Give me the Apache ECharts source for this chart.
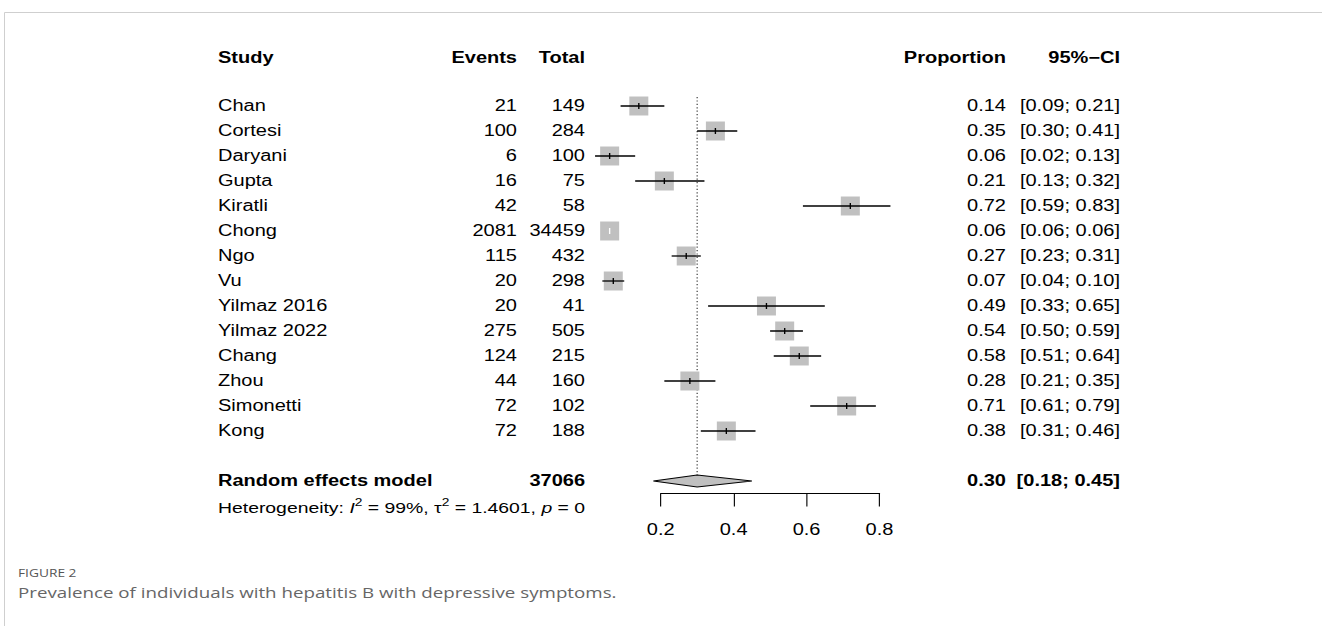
<!DOCTYPE html>
<html>
<head>
<meta charset="utf-8">
<script src="https://cdn.jsdelivr.net/npm/echarts@6/dist/echarts.min.js"></script>
<style>
  html, body { margin: 0; padding: 0; background: #fff; }
  #frame { position: absolute; left: 0; top: 0; width: 1322px; height: 626px; }
  /* the figure is stretched sideways, so draw it narrow and widen it */
  #plot { position: absolute; left: 0; top: 0; width: 1057.6px; height: 626px;
          transform: scaleX(1.25); transform-origin: 0 0; }
</style>
</head>
<body>
<div id="frame"></div>
<div id="plot"></div>
<script>
const SX = 1.25;

const studies = ['Chan', 'Cortesi', 'Daryani', 'Gupta', 'Kiratli', 'Chong', 'Ngo', 'Vu',
  'Yilmaz 2016', 'Yilmaz 2022', 'Chang', 'Zhou', 'Simonetti', 'Kong'];
const events = [21, 100, 6, 16, 42, 2081, 115, 20, 20, 275, 124, 44, 72, 72];
const totals = [149, 284, 100, 75, 58, 34459, 432, 298, 41, 505, 215, 160, 102, 188];
const proportion = [0.14, 0.35, 0.06, 0.21, 0.72, 0.06, 0.27, 0.07, 0.49, 0.54, 0.58, 0.28, 0.71, 0.38];
const ciLower = [0.09, 0.30, 0.02, 0.13, 0.59, 0.06, 0.23, 0.04, 0.33, 0.50, 0.51, 0.21, 0.61, 0.31];
const ciUpper = [0.21, 0.41, 0.13, 0.32, 0.83, 0.06, 0.31, 0.10, 0.65, 0.59, 0.64, 0.35, 0.79, 0.46];

const pooledLabel = 'Random effects model';
const pooledTotal = 37066;
const pooled = [0.30, 0.18, 0.45];   // estimate, lower, upper
const xTicks = [0.2, 0.4, 0.6, 0.8];

const headerRow = -1.95;
const pooledRow = 15;
const hetRow = 16.08;

// column x positions (in unstretched plot space)
const colStudy = 218 / SX;
const colEvents = 517 / SX;
const colTotal = 585 / SX;
const colProp = 1006 / SX;
const colCI = 1120 / SX;

const FONT = '"Liberation Sans", Arial, Helvetica, sans-serif';
const FS = 16;

function txt(x, y, text, align, bold) {
  return {
    type: 'text', x: x, y: y,
    style: {
      text: text, fill: '#000', fontSize: FS, fontFamily: FONT,
      fontWeight: bold ? 'bold' : 'normal', align: align, verticalAlign: 'middle'
    }
  };
}

function fmtCI(lo, hi) {
  return '[' + lo.toFixed(2) + '; ' + hi.toFixed(2) + ']';
}

// background: page frame
const frameChart = echarts.init(document.getElementById('frame'), null, { renderer: 'svg' });
frameChart.setOption({
  animation: false,
  backgroundColor: '#fff',
  graphic: [
    { type: 'line', shape: { x1: 4.5, y1: 12.5, x2: 1322, y2: 12.5 }, style: { stroke: '#cfcfcf', lineWidth: 1 } },
    { type: 'line', shape: { x1: 4.5, y1: 12.5, x2: 4.5, y2: 626 }, style: { stroke: '#cfcfcf', lineWidth: 1 } }
  ]
});

const plotChart = echarts.init(document.getElementById('plot'), null, { renderer: 'svg' });

const option = {
  animation: false,
  backgroundColor: 'transparent',
  graphic: [
    { type: 'text', left: 18 / SX, top: 568, style: { text: 'FIGURE 2', fontSize: 11, fill: '#555', fontFamily: '"Open Sans", sans-serif' } },
    { type: 'text', left: 18 / SX, top: 585, style: { text: 'Prevalence of individuals with hepatitis B with depressive symptoms.', fontSize: 15, fill: '#666', fontFamily: '"Open Sans", sans-serif' } }
  ],
  grid: { left: 660.7 / SX, right: 1057.6 - 879 / SX, top: 106, bottom: 132.5 },
  xAxis: {
    type: 'value', min: 0.2, max: 0.8, interval: 0.2, position: 'bottom',
    axisLine: { onZero: false, lineStyle: { color: '#000', width: 1 } },
    axisTick: { length: 13, lineStyle: { color: '#000', width: 0.9 } },
    axisLabel: {
      margin: 28, color: '#000', fontSize: FS, fontFamily: FONT,
      formatter: function (v) { return xTicks.find(t => Math.abs(t - v) < 1e-6).toFixed(1); }
    },
    splitLine: { show: false }
  },
  yAxis: { type: 'value', min: 0, max: 15.5, inverse: true, show: false },
  series: [
    {
      // dotted line at the pooled estimate
      type: 'custom', clip: false, silent: true,
      data: [[pooled[0], -0.36, pooledRow - 0.24]],
      renderItem: function (params, api) {
        const a = api.coord([api.value(0), api.value(1)]);
        const b = api.coord([api.value(0), api.value(2)]);
        return {
          type: 'line', shape: { x1: a[0], y1: a[1], x2: b[0], y2: b[1] },
          style: { stroke: '#444', lineWidth: 1, lineDash: [1.2, 2.2] }
        };
      }
    },
    {
      // study squares and confidence intervals
      type: 'custom', clip: false, silent: true,
      data: studies.map((s, i) => [i, proportion[i], ciLower[i], ciUpper[i]]),
      renderItem: function (params, api) {
        const row = api.value(0);
        const c = api.coord([api.value(1), row]);
        const l = api.coord([api.value(2), row]);
        const h = api.coord([api.value(3), row]);
        const bw = 19 / SX, bh = 19;
        const stroke = (h[0] - l[0]) < bw ? '#fff' : '#000';
        return {
          type: 'group', children: [
            { type: 'rect', shape: { x: c[0] - bw / 2, y: c[1] - bh / 2, width: bw, height: bh }, style: { fill: '#c0c0c0' } },
            { type: 'line', shape: { x1: l[0], y1: c[1], x2: h[0], y2: c[1] }, style: { stroke: stroke, lineWidth: 1.3 } },
            { type: 'line', shape: { x1: c[0], y1: c[1] - 3, x2: c[0], y2: c[1] + 3 }, style: { stroke: stroke, lineWidth: 1.1 } }
          ]
        };
      }
    },
    {
      // pooled diamond
      type: 'custom', clip: false, silent: true,
      data: [[pooledRow, pooled[0], pooled[1], pooled[2]]],
      renderItem: function (params, api) {
        const row = api.value(0);
        const pts = [
          api.coord([api.value(2), row]),
          api.coord([api.value(1), row - 0.24]),
          api.coord([api.value(3), row]),
          api.coord([api.value(1), row + 0.24])
        ];
        return {
          type: 'polygon', shape: { points: pts },
          style: { fill: '#c0c0c0', stroke: '#000', lineWidth: 1.1 }
        };
      }
    },
    {
      // table text for each study
      type: 'custom', clip: false, silent: true,
      data: studies.map((s, i) => [i]),
      renderItem: function (params, api) {
        const i = params.dataIndex;
        const y = api.coord([0.2, api.value(0)])[1];
        return {
          type: 'group', children: [
            txt(colStudy, y, studies[i], 'left', false),
            txt(colEvents, y, String(events[i]), 'right', false),
            txt(colTotal, y, String(totals[i]), 'right', false),
            txt(colProp, y, proportion[i].toFixed(2), 'right', false),
            txt(colCI, y, fmtCI(ciLower[i], ciUpper[i]), 'right', false)
          ]
        };
      }
    },
    {
      // header, pooled row and heterogeneity
      type: 'custom', clip: false, silent: true,
      data: [[headerRow]],
      renderItem: function (params, api) {
        const yh = api.coord([0.2, headerRow])[1];
        const yp = api.coord([0.2, pooledRow])[1];
        const yq = api.coord([0.2, hetRow])[1];
        return {
          type: 'group', children: [
            txt(colStudy, yh, 'Study', 'left', true),
            txt(colEvents, yh, 'Events', 'right', true),
            txt(colTotal, yh, 'Total', 'right', true),
            txt(colProp, yh, 'Proportion', 'right', true),
            txt(colCI, yh, '95%\u2212CI', 'right', true),
            txt(colStudy, yp, pooledLabel, 'left', true),
            txt(colTotal, yp, String(pooledTotal), 'right', true),
            txt(colProp, yp, pooled[0].toFixed(2), 'right', true),
            txt(colCI, yp, fmtCI(pooled[1], pooled[2]), 'right', true),
            {
              type: 'text', x: colStudy, y: yq,
              style: {
                text: 'Heterogeneity: {it|I}{sup|2} = 99%, \u03c4{sup|2} = 1.4601, {it|p} = 0',
                fill: '#000', fontSize: 15.5, fontFamily: FONT, align: 'left', verticalAlign: 'middle',
                rich: {
                  it: { fontStyle: 'italic', fontSize: 15.5, fontFamily: FONT, fill: '#000' },
                  sup: { fontSize: 11, fontFamily: FONT, fill: '#000', verticalAlign: 'top', lineHeight: 22 }
                }
              }
            }
          ]
        };
      }
    }
  ]
};

plotChart.setOption(option);
</script>
</body>
</html>
